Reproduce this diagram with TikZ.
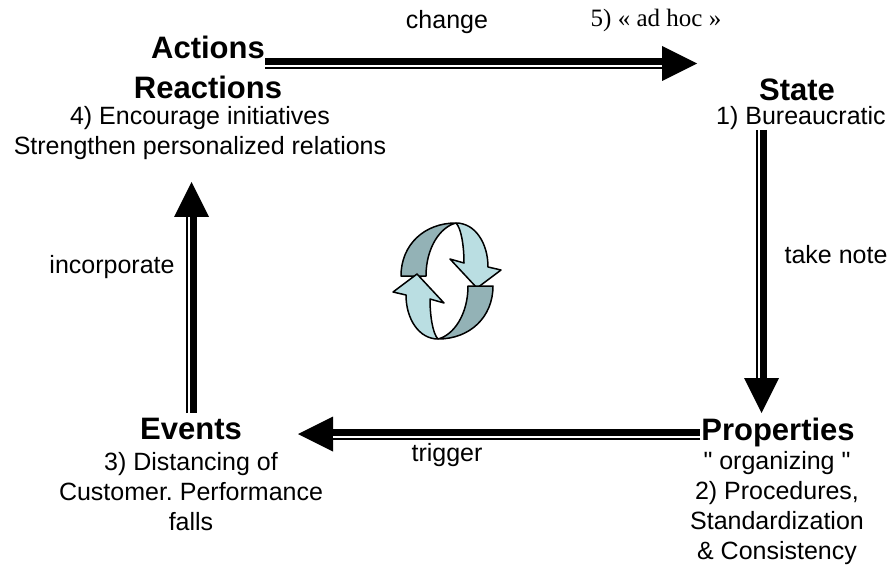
\documentclass[tikz,border=0pt]{standalone}
\usepackage{fontspec}
\setmainfont{Liberation Sans}
\newfontfamily\timesfont{Liberation Serif}
\newfontfamily\quotefont{Liberation Sans}
\usetikzlibrary{arrows.meta,calc}
\definecolor{ringlight}{RGB}{186,222,226}
\definecolor{ringdark}{RGB}{147,178,182}
\frenchspacing
\begin{document}
\begin{tikzpicture}[x=1pt,y=-1pt,
  title/.style={font=\fontsize{31}{40}\selectfont\bfseries, align=center, inner sep=0pt},
  desc/.style={font=\fontsize{25}{30}\selectfont, align=center, inner sep=0pt},
  lbl/.style={font=\fontsize{25}{30}\selectfont, inner sep=0pt},
  shaft/.style={line width=11pt, -{Triangle[length=35pt,width=35pt,line width=0pt]}},
  gapline/.style={white, line width=1.8pt, shorten >=35pt},
  ringedge/.style={draw=black, line width=1.5pt, line join=round}]
\useasboundingbox (0,0) rectangle (895,567);

% texts
\node[title] (act) at (208,67) {Actions\\Reactions};
\node[desc] (actd) at (200,133) {4) Encourage initiatives\\Strengthen personalized relations};
\node[title] (state) at (797,90) {State};
\node[desc] (stated) at (801,118) {1) Bureaucratic};
\node[title] (prop) at (778,432) {Properties};
\node[desc] (propd) at (777,508) {{\quotefont"} organizing {\quotefont"}\\2) Procedures,\\Standardization\\\& Consistency};
\node[title] (ev) at (191,429) {Events};
\node[desc] (evd) at (191,492) {3) Distancing of\\Customer. Performance\\falls};

\node[lbl] (chg) at (447,22) {change};
\node[lbl, font=\timesfont\fontsize{25}{30}\selectfont] (adhoc) at (656,20) {5) « ad hoc »};
\node[lbl] (tn) at (836,255) {take note};
\node[lbl] (inc) at (112,267) {incorporate};
\node[lbl] (trg) at (447,455) {trigger};

% connectors
\coordinate (t1) at (265,63.5); \coordinate (t2) at (697,63.5);
\draw[shaft] (t1) -- (t2);
\draw[gapline] ($(t1)+(0,2.6)$) -- ($(t2)+(0,2.6)$);

\coordinate (r1) at (761.5,130); \coordinate (r2) at (761.5,413);
\draw[shaft] (r1) -- (r2);
\draw[gapline] ($(r1)+(-2.6,0)$) -- ($(r2)+(-2.6,0)$);

\coordinate (b1) at (700,434); \coordinate (b2) at (298,434);
\draw[shaft] (b1) -- (b2);
\draw[gapline] ($(b1)+(0,2.6)$) -- ($(b2)+(0,2.6)$);

\coordinate (l1) at (191.5,413); \coordinate (l2) at (191.5,182);
\draw[shaft] (l1) -- (l2);
\draw[gapline] ($(l1)+(-2.6,0)$) -- ($(l2)+(-2.6,0)$);

% circular arrows
\foreach \ang in {0,180}{
\begin{scope}[rotate around={\ang:(447,281)}]
\filldraw[ringedge, fill=ringdark] (401,276) -- (426,276) .. controls (426,248) and (440,227) .. (456,223) .. controls (424,223) and (401,245) .. (401,276) -- cycle;
\filldraw[ringedge, fill=ringlight] (456,223) .. controls (475,223) and (488,243) .. (488,267) -- (501,270) -- (477,288) -- (450,259) -- (464,263) .. controls (464,245) and (461,228) .. (456,223) -- cycle;
\end{scope}
}
\end{tikzpicture}
\end{document}
